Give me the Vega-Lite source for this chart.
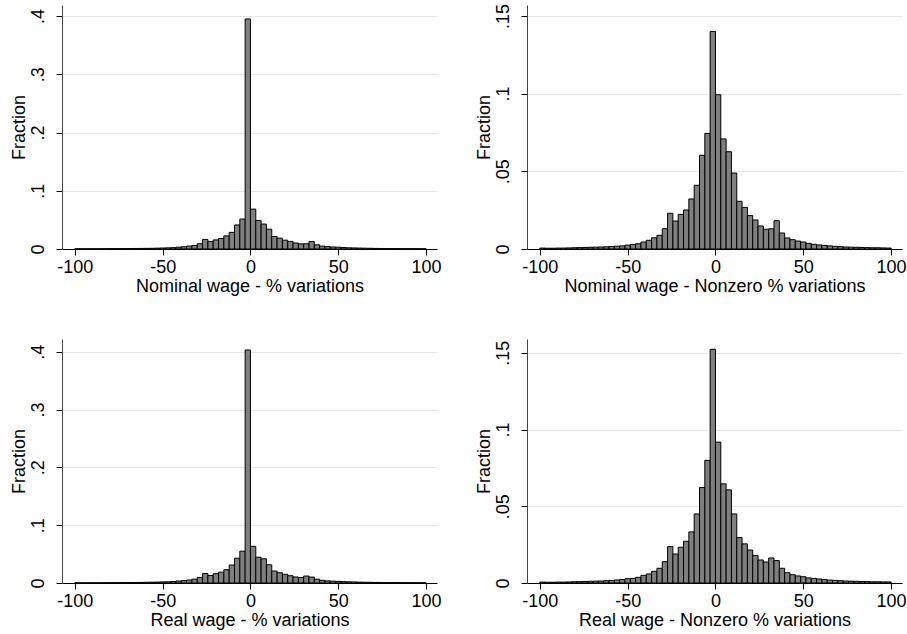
{
  "$schema": "https://vega.github.io/schema/vega-lite/v6.json",
  "background": "white",
  "padding": {"left": 10, "top": 3, "right": 5, "bottom": 5},
  "data": {"values": [
    {"bin_start": -100, "bin_end": -96.97, "nominal": 0.0004, "nominal_nz": 0.0006, "real": 0.0004, "real_nz": 0.0006},
    {"bin_start": -96.97, "bin_end": -93.94, "nominal": 0.00035, "nominal_nz": 0.0005, "real": 0.00035, "real_nz": 0.0005},
    {"bin_start": -93.94, "bin_end": -90.91, "nominal": 0.00035, "nominal_nz": 0.0005, "real": 0.00035, "real_nz": 0.0005},
    {"bin_start": -90.91, "bin_end": -87.88, "nominal": 0.0004, "nominal_nz": 0.0006, "real": 0.0004, "real_nz": 0.0006},
    {"bin_start": -87.88, "bin_end": -84.85, "nominal": 0.0004, "nominal_nz": 0.0006, "real": 0.0004, "real_nz": 0.0006},
    {"bin_start": -84.85, "bin_end": -81.82, "nominal": 0.0005, "nominal_nz": 0.0007, "real": 0.0005, "real_nz": 0.0007},
    {"bin_start": -81.82, "bin_end": -78.79, "nominal": 0.00055, "nominal_nz": 0.0008, "real": 0.00055, "real_nz": 0.0008},
    {"bin_start": -78.79, "bin_end": -75.76, "nominal": 0.0006, "nominal_nz": 0.0009, "real": 0.0006, "real_nz": 0.0009},
    {"bin_start": -75.76, "bin_end": -72.73, "nominal": 0.0007, "nominal_nz": 0.001, "real": 0.0007, "real_nz": 0.001},
    {"bin_start": -72.73, "bin_end": -69.70, "nominal": 0.00075, "nominal_nz": 0.0011, "real": 0.00075, "real_nz": 0.0011},
    {"bin_start": -69.70, "bin_end": -66.67, "nominal": 0.0008, "nominal_nz": 0.0012, "real": 0.0008, "real_nz": 0.0012},
    {"bin_start": -66.67, "bin_end": -63.64, "nominal": 0.0009, "nominal_nz": 0.0013, "real": 0.0009, "real_nz": 0.0013},
    {"bin_start": -63.64, "bin_end": -60.61, "nominal": 0.001, "nominal_nz": 0.0014, "real": 0.001, "real_nz": 0.0015},
    {"bin_start": -60.61, "bin_end": -57.58, "nominal": 0.0011, "nominal_nz": 0.0016, "real": 0.0012, "real_nz": 0.0017},
    {"bin_start": -57.58, "bin_end": -54.55, "nominal": 0.0012, "nominal_nz": 0.0018, "real": 0.0014, "real_nz": 0.002},
    {"bin_start": -54.55, "bin_end": -51.52, "nominal": 0.0014, "nominal_nz": 0.002, "real": 0.0016, "real_nz": 0.0023},
    {"bin_start": -51.52, "bin_end": -48.48, "nominal": 0.0017, "nominal_nz": 0.0025, "real": 0.0019, "real_nz": 0.0028},
    {"bin_start": -48.48, "bin_end": -45.45, "nominal": 0.002, "nominal_nz": 0.0029, "real": 0.0021, "real_nz": 0.003},
    {"bin_start": -45.45, "bin_end": -42.42, "nominal": 0.0023, "nominal_nz": 0.0034, "real": 0.0026, "real_nz": 0.0037},
    {"bin_start": -42.42, "bin_end": -39.39, "nominal": 0.0031, "nominal_nz": 0.0045, "real": 0.0035, "real_nz": 0.005},
    {"bin_start": -39.39, "bin_end": -36.36, "nominal": 0.0039, "nominal_nz": 0.0056, "real": 0.0041, "real_nz": 0.0059},
    {"bin_start": -36.36, "bin_end": -33.33, "nominal": 0.005, "nominal_nz": 0.0072, "real": 0.0052, "real_nz": 0.0076},
    {"bin_start": -33.33, "bin_end": -30.30, "nominal": 0.0061, "nominal_nz": 0.0088, "real": 0.0066, "real_nz": 0.0096},
    {"bin_start": -30.30, "bin_end": -27.27, "nominal": 0.009, "nominal_nz": 0.0131, "real": 0.0096, "real_nz": 0.0139},
    {"bin_start": -27.27, "bin_end": -24.24, "nominal": 0.0165, "nominal_nz": 0.023, "real": 0.0164, "real_nz": 0.0237},
    {"bin_start": -24.24, "bin_end": -21.21, "nominal": 0.013, "nominal_nz": 0.018, "real": 0.013, "real_nz": 0.0189},
    {"bin_start": -21.21, "bin_end": -18.18, "nominal": 0.0156, "nominal_nz": 0.0223, "real": 0.0161, "real_nz": 0.0233},
    {"bin_start": -18.18, "bin_end": -15.15, "nominal": 0.018, "nominal_nz": 0.0251, "real": 0.0188, "real_nz": 0.0272},
    {"bin_start": -15.15, "bin_end": -12.12, "nominal": 0.0225, "nominal_nz": 0.0322, "real": 0.023, "real_nz": 0.0333},
    {"bin_start": -12.12, "bin_end": -9.09, "nominal": 0.0285, "nominal_nz": 0.041, "real": 0.031, "real_nz": 0.045},
    {"bin_start": -9.09, "bin_end": -6.06, "nominal": 0.0413, "nominal_nz": 0.0603, "real": 0.0429, "real_nz": 0.0622},
    {"bin_start": -6.06, "bin_end": -3.03, "nominal": 0.0514, "nominal_nz": 0.0744, "real": 0.0551, "real_nz": 0.0799},
    {"bin_start": -3.03, "bin_end": 0, "nominal": 0.395, "nominal_nz": 0.140, "real": 0.403, "real_nz": 0.1523},
    {"bin_start": 0, "bin_end": 3.03, "nominal": 0.0685, "nominal_nz": 0.0993, "real": 0.0634, "real_nz": 0.0918},
    {"bin_start": 3.03, "bin_end": 6.06, "nominal": 0.0489, "nominal_nz": 0.0708, "real": 0.0446, "real_nz": 0.0646},
    {"bin_start": 6.06, "bin_end": 9.09, "nominal": 0.0428, "nominal_nz": 0.0626, "real": 0.0419, "real_nz": 0.0607},
    {"bin_start": 9.09, "bin_end": 12.12, "nominal": 0.034, "nominal_nz": 0.0489, "real": 0.0315, "real_nz": 0.045},
    {"bin_start": 12.12, "bin_end": 15.15, "nominal": 0.0215, "nominal_nz": 0.0307, "real": 0.0207, "real_nz": 0.0296},
    {"bin_start": 15.15, "bin_end": 18.18, "nominal": 0.0187, "nominal_nz": 0.0268, "real": 0.0178, "real_nz": 0.0255},
    {"bin_start": 18.18, "bin_end": 21.21, "nominal": 0.0152, "nominal_nz": 0.0215, "real": 0.015, "real_nz": 0.0215},
    {"bin_start": 21.21, "bin_end": 24.24, "nominal": 0.013, "nominal_nz": 0.0187, "real": 0.0126, "real_nz": 0.018},
    {"bin_start": 24.24, "bin_end": 27.27, "nominal": 0.0103, "nominal_nz": 0.0148, "real": 0.0105, "real_nz": 0.015},
    {"bin_start": 27.27, "bin_end": 30.30, "nominal": 0.0088, "nominal_nz": 0.0127, "real": 0.0095, "real_nz": 0.0137},
    {"bin_start": 30.30, "bin_end": 33.33, "nominal": 0.009, "nominal_nz": 0.013, "real": 0.012, "real_nz": 0.0163},
    {"bin_start": 33.33, "bin_end": 36.36, "nominal": 0.0127, "nominal_nz": 0.0182, "real": 0.0102, "real_nz": 0.0146},
    {"bin_start": 36.36, "bin_end": 39.39, "nominal": 0.0072, "nominal_nz": 0.0103, "real": 0.0066, "real_nz": 0.0096},
    {"bin_start": 39.39, "bin_end": 42.42, "nominal": 0.0049, "nominal_nz": 0.0071, "real": 0.0046, "real_nz": 0.0067},
    {"bin_start": 42.42, "bin_end": 45.45, "nominal": 0.0041, "nominal_nz": 0.006, "real": 0.0037, "real_nz": 0.0054},
    {"bin_start": 45.45, "bin_end": 48.48, "nominal": 0.0035, "nominal_nz": 0.0051, "real": 0.0032, "real_nz": 0.0046},
    {"bin_start": 48.48, "bin_end": 51.52, "nominal": 0.0031, "nominal_nz": 0.0045, "real": 0.0028, "real_nz": 0.0041},
    {"bin_start": 51.52, "bin_end": 54.55, "nominal": 0.0025, "nominal_nz": 0.0036, "real": 0.0023, "real_nz": 0.0033},
    {"bin_start": 54.55, "bin_end": 57.58, "nominal": 0.0021, "nominal_nz": 0.003, "real": 0.0021, "real_nz": 0.003},
    {"bin_start": 57.58, "bin_end": 60.61, "nominal": 0.0018, "nominal_nz": 0.0026, "real": 0.0018, "real_nz": 0.0026},
    {"bin_start": 60.61, "bin_end": 63.64, "nominal": 0.0016, "nominal_nz": 0.0023, "real": 0.0015, "real_nz": 0.0022},
    {"bin_start": 63.64, "bin_end": 66.67, "nominal": 0.0014, "nominal_nz": 0.002, "real": 0.0013, "real_nz": 0.0019},
    {"bin_start": 66.67, "bin_end": 69.70, "nominal": 0.0012, "nominal_nz": 0.0017, "real": 0.0012, "real_nz": 0.0017},
    {"bin_start": 69.70, "bin_end": 72.73, "nominal": 0.001, "nominal_nz": 0.0015, "real": 0.001, "real_nz": 0.0015},
    {"bin_start": 72.73, "bin_end": 75.76, "nominal": 0.0009, "nominal_nz": 0.0013, "real": 0.0009, "real_nz": 0.0013},
    {"bin_start": 75.76, "bin_end": 78.79, "nominal": 0.0008, "nominal_nz": 0.0012, "real": 0.0008, "real_nz": 0.0012},
    {"bin_start": 78.79, "bin_end": 81.82, "nominal": 0.00075, "nominal_nz": 0.0011, "real": 0.00075, "real_nz": 0.0011},
    {"bin_start": 81.82, "bin_end": 84.85, "nominal": 0.0007, "nominal_nz": 0.001, "real": 0.0007, "real_nz": 0.001},
    {"bin_start": 84.85, "bin_end": 87.88, "nominal": 0.0006, "nominal_nz": 0.0009, "real": 0.0006, "real_nz": 0.0009},
    {"bin_start": 87.88, "bin_end": 90.91, "nominal": 0.00055, "nominal_nz": 0.0008, "real": 0.00055, "real_nz": 0.0008},
    {"bin_start": 90.91, "bin_end": 93.94, "nominal": 0.00055, "nominal_nz": 0.0008, "real": 0.00055, "real_nz": 0.0008},
    {"bin_start": 93.94, "bin_end": 96.97, "nominal": 0.0005, "nominal_nz": 0.0007, "real": 0.0005, "real_nz": 0.0007},
    {"bin_start": 96.97, "bin_end": 100, "nominal": 0.0004, "nominal_nz": 0.0006, "real": 0.0005, "real_nz": 0.0007}
  ]},
  "config": {
    "view": {"stroke": null},
    "font": "Liberation Sans",
    "axis": {
      "labelFont": "Liberation Sans", "titleFont": "Liberation Sans",
      "labelFontSize": 18, "titleFontSize": 18, "titleFontWeight": "normal",
      "labelColor": "#000", "titleColor": "#000",
      "domainColor": "#000", "tickColor": "#000", "tickSize": 6, "domainWidth": 1, "tickWidth": 1,
      "labelFlush": false, "labelOverlap": false
    },
    "axisX": {"grid": false, "labelPadding": 3, "titlePadding": 1, "labelExpr": "'' + datum.value"},
    "axisY": {"grid": true, "gridColor": "#e6e6e6", "gridWidth": 1, "domainColor": "#444",
      "labelAngle": -90, "labelAlign": "center", "labelBaseline": "bottom", "labelPadding": 9, "titlePadding": 1,
      "format": ".2~f", "labelExpr": "replace(datum.label, '0.', '.')"}
  },
  "columns": 2,
  "bounds": "flush",
  "spacing": 90,
  "concat": [
    {"width": 375, "height": 244,
     "mark": {"type": "bar", "fill": "#7f7f7f", "stroke": "#000", "strokeWidth": 1},
     "encoding": {
       "x": {"field": "bin_start", "type": "quantitative", "scale": {"domain": [-107.3, 106.2], "nice": false, "zero": false}, "axis": {"values": [-100, -50, 0, 50, 100], "title": "Nominal wage - % variations"}},
       "x2": {"field": "bin_end"},
       "y": {"field": "nominal", "type": "quantitative", "scale": {"domain": [0, 0.419], "nice": false}, "axis": {"values": [0, 0.1, 0.2, 0.3, 0.4], "title": "Fraction"}},
       "y2": {"datum": 0}
     }},
    {"width": 375, "height": 244,
     "mark": {"type": "bar", "fill": "#7f7f7f", "stroke": "#000", "strokeWidth": 1},
     "encoding": {
       "x": {"field": "bin_start", "type": "quantitative", "scale": {"domain": [-107.3, 106.2], "nice": false, "zero": false}, "axis": {"values": [-100, -50, 0, 50, 100], "title": "Nominal wage - Nonzero % variations"}},
       "x2": {"field": "bin_end"},
       "y": {"field": "nominal_nz", "type": "quantitative", "scale": {"domain": [0, 0.157], "nice": false}, "axis": {"values": [0, 0.05, 0.1, 0.15], "title": "Fraction"}},
       "y2": {"datum": 0}
     }},
    {"width": 375, "height": 244,
     "mark": {"type": "bar", "fill": "#7f7f7f", "stroke": "#000", "strokeWidth": 1},
     "encoding": {
       "x": {"field": "bin_start", "type": "quantitative", "scale": {"domain": [-107.3, 106.2], "nice": false, "zero": false}, "axis": {"values": [-100, -50, 0, 50, 100], "title": "Real wage - % variations"}},
       "x2": {"field": "bin_end"},
       "y": {"field": "real", "type": "quantitative", "scale": {"domain": [0, 0.422], "nice": false}, "axis": {"values": [0, 0.1, 0.2, 0.3, 0.4], "title": "Fraction"}},
       "y2": {"datum": 0}
     }},
    {"width": 375, "height": 244,
     "mark": {"type": "bar", "fill": "#7f7f7f", "stroke": "#000", "strokeWidth": 1},
     "encoding": {
       "x": {"field": "bin_start", "type": "quantitative", "scale": {"domain": [-107.3, 106.2], "nice": false, "zero": false}, "axis": {"values": [-100, -50, 0, 50, 100], "title": "Real wage - Nonzero % variations"}},
       "x2": {"field": "bin_end"},
       "y": {"field": "real_nz", "type": "quantitative", "scale": {"domain": [0, 0.159], "nice": false}, "axis": {"values": [0, 0.05, 0.1, 0.15], "title": "Fraction"}},
       "y2": {"datum": 0}
     }}
  ]
}
